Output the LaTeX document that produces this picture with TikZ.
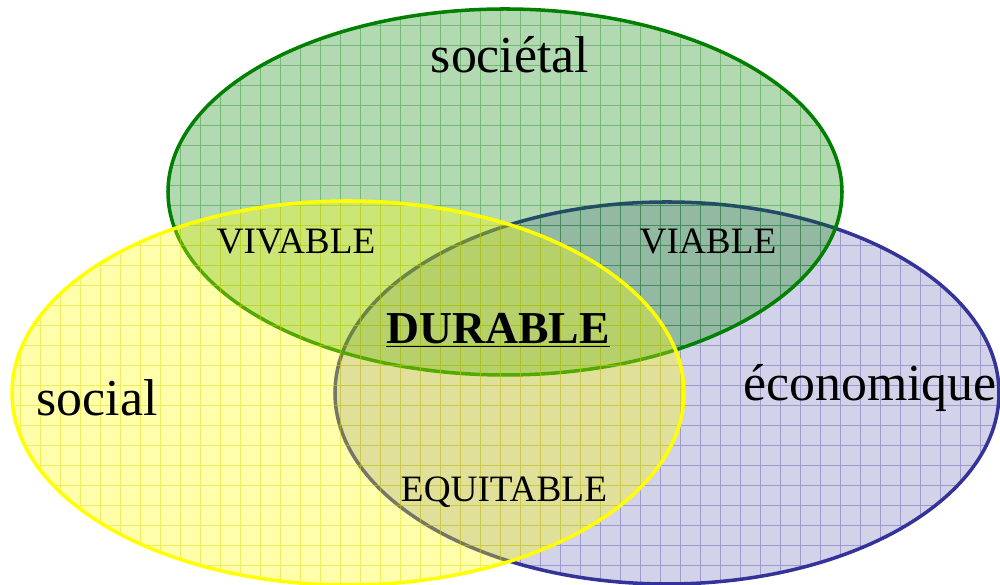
\documentclass[tikz,border=0pt]{standalone}
\usepackage{fontspec}
\setmainfont{Liberation Serif}
\definecolor{socgreen}{RGB}{0,128,0}
\definecolor{socyellow}{RGB}{255,255,0}
\definecolor{ecoblue}{RGB}{51,51,153}
\tikzset{
  sphere/.style={line width=2pt},
  gridline/.style={line width=0.4pt, draw opacity=0.35},
  biglabel/.style={font=\fontsize{29.5}{31}\selectfont},
  zonelabel/.style={font=\fontsize{21.2}{23}\selectfont}
}
\begin{document}
\begin{tikzpicture}
\useasboundingbox (0,0) rectangle (20,11.7);
% Draw the economique sphere
\fill[ecoblue, fill opacity=0.22] (13.34,3.84) ellipse (6.64 and 3.82);
\begin{scope}
\clip (13.34,3.84) ellipse (6.64 and 3.82);
\draw[gridline, ecoblue] (6,0) grid[step=0.4] (20,8);
\end{scope}
\draw[sphere, ecoblue] (13.34,3.84) ellipse (6.64 and 3.82);
% Draw the societal sphere
\fill[socgreen, fill opacity=0.3] (10.1,7.86) ellipse (6.74 and 3.66);
\begin{scope}
\clip (10.1,7.86) ellipse (6.74 and 3.66);
\draw[gridline, socgreen] (3.2,4) grid[step=0.4] (17.2,11.6);
\end{scope}
\draw[sphere, socgreen] (10.1,7.86) ellipse (6.74 and 3.66);
% Draw the social sphere
\fill[socyellow, fill opacity=0.33] (6.96,3.84) ellipse (6.72 and 3.84);
\begin{scope}
\clip (6.96,3.84) ellipse (6.72 and 3.84);
\draw[gridline, socyellow!85!black, draw opacity=0.45] (0,0) grid[step=0.4] (14,8);
\end{scope}
\draw[sphere, socyellow] (6.96,3.84) ellipse (6.72 and 3.84);
% Draw the labels
\node[biglabel] (societal) at (10.2,10.6) {sociétal};
\node[biglabel] (social) at (1.94,3.74) {social};
\node[biglabel] (economique) at (17.4,3.94) {économique};
\node[zonelabel] (vivable) at (5.92,6.88) {VIVABLE};
\node[zonelabel] (viable) at (14.16,6.88) {VIABLE};
\node[zonelabel] (equitable) at (10.08,1.86) {EQUITABLE};
\node[font=\fontsize{26}{28}\selectfont\bfseries] (durable) at (9.96,5.1) {\underline{DURABLE}};
\end{tikzpicture}
\end{document}
